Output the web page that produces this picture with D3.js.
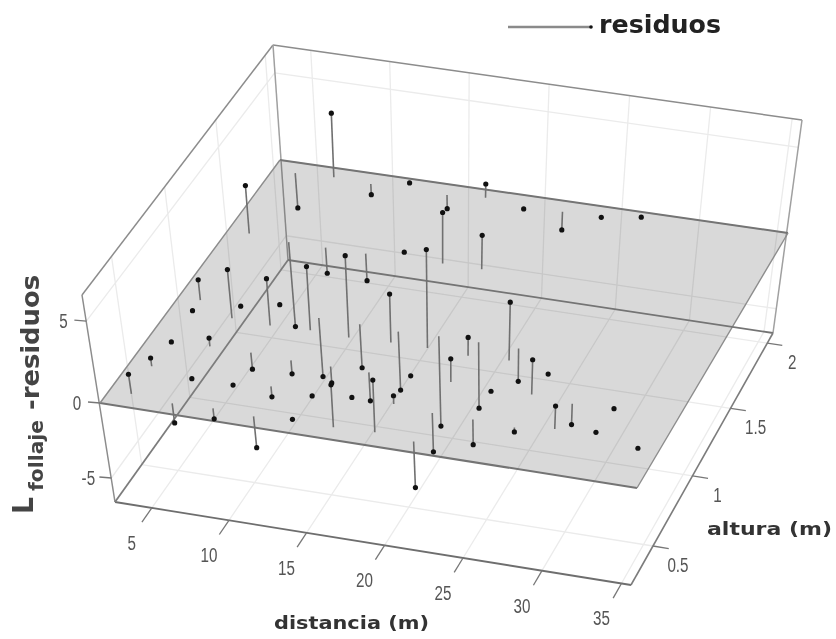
<!DOCTYPE html>
<html>
<head>
<meta charset="utf-8">
<style>
  html, body { margin: 0; background: #fff; }
  svg { display: block; filter: blur(0.7px); }
  .tick { font-family: "Liberation Sans"; font-size: 19.5px; fill: #555; }
  .lab { font-family: "DejaVu Sans"; font-weight: bold; fill: #333; }
</style>
</head>
<body>
<svg width="836" height="639"></svg>
<script src="https://d3js.org/d3.v7.min.js"></script>
<script>
// values, one entry per tree point
const distancia = [6.6,4.1,9.1,11.3,16.5,14.1,16.6,19.1,13.9,19.0,14.1,11.7,9.1,11.6,6.7,9.1,6.6,8.8,16.7,11.6,14.2,16.7,14.2,16.7,19.2,16.6,19.2,19.1,21.6,21.6,19.2,21.7,11.8,14.1,16.6,14.3,11.6,9.1,11.7,9.4,21.7,24.1,21.7,24.2,24.2,24.2,26.6,26.8,29.1,29.2,26.8,31.5,31.7,34.4,19.2,21.6,24.1,26.5,4.0,4.0,4.1,4.0,4.0,6.6,6.5,6.8,6.7,9.2,4.0];
const altura = [2.01,2.00,2.00,2.06,2.02,2.00,1.51,1.51,1.55,0.92,0.91,1.50,1.50,0.92,1.50,0.91,1.01,1.06,0.92,1.01,1.01,1.00,0.70,0.31,0.32,0.70,0.52,0.72,0.72,0.91,1.01,0.50,0.30,0.32,0.52,0.49,0.51,0.71,0.70,0.48,0.30,0.92,1.01,0.50,0.70,1.01,0.72,0.87,0.52,0.70,0.49,0.54,0.71,0.47,1.98,2.00,2.00,2.03,0.32,0.52,0.70,0.93,1.01,0.92,0.71,0.48,0.30,0.31,1.52];
const residuo = [3.7,-2.3,-0.7,-0.1,0.8,-0.9,3.0,2.0,0.0,5.9,4.9,-1.8,-1.7,3.8,-5.6,2.8,0.0,0.0,2.9,-3.9,-2.9,-3.9,-1.1,2.6,3.2,-1.9,0.5,0.0,1.4,1.1,-6.0,-2.6,-2.1,0.0,0.0,0.0,-0.7,-1.1,-0.9,0.0,-3.1,3.5,-4.4,-1.7,0.0,-2.2,2.1,0.0,1.4,-1.4,-0.3,0.0,0.0,0.1,0.0,-1.2,0.0,0.1,1.2,0.5,0.0,0.0,1.2,2.9,0.5,0.0,-1.3,-0.7,2.8];

const distTicks = [5,10,15,20,25,30,35];
const altTicks = [0.5,1,1.5,2];
const zTicks = [-5,0,5];

const distRange = [2.6, 35.6];
const altRange = [0.23, 2.08];
const zRange = [-6.6, 6.6];

const svg = d3.select("svg");

const u = d3.scaleLinear().domain(distRange).range([0, 1]);
const v = d3.scaleLinear().domain(altRange).range([0, 1]);
const w = d3.scaleLinear().domain([zRange[0], 0, zRange[1]]).range([-1, 0, 1]);

// unit square to picture, corners in order front-left, front-right, back-right, back-left
function homography(q) {
  const [[x0,y0],[x1,y1],[x2,y2],[x3,y3]] = q;
  const dx1 = x1-x2, dx2 = x3-x2, sx = x0-x1+x2-x3;
  const dy1 = y1-y2, dy2 = y3-y2, sy = y0-y1+y2-y3;
  const den = dx1*dy2 - dx2*dy1;
  const g = (sx*dy2 - dx2*sy)/den, h = (dx1*sy - sx*dy1)/den;
  const a = x1-x0+g*x1, b = x3-x0+h*x3, d = y1-y0+g*y1, e = y3-y0+h*y3;
  return (s, t) => {
    const n = g*s + h*t + 1;
    return [(a*s + b*t + x0)/n, (d*s + e*t + y0)/n];
  };
}

const floorH = homography([[115,502],[631,585],[773,333],[288,260]]);
const planeH = homography([[100,403],[637,488],[788,233],[280,160]]);
const topH = homography([[82,295],[644,381],[802,120],[273,45]]);

function project(dist, alt, z) {
  const s = u(dist), t = v(alt), k = w(z);
  const a = planeH(s, t), b = k < 0 ? floorH(s, t) : topH(s, t), m = Math.abs(k);
  return [a[0] + (b[0]-a[0])*m, a[1] + (b[1]-a[1])*m];
}

function segment(p, q, stroke, width, g) {
  (g || svg).append("line")
    .attr("x1", p[0]).attr("y1", p[1])
    .attr("x2", q[0]).attr("y2", q[1])
    .attr("stroke", stroke).attr("stroke-width", width);
}

const [d0, d1] = distRange, [a0, a1] = altRange, [z0, z1] = zRange;
const gridColor = "#ebebeb";

// floor and wall grid
distTicks.forEach(d => {
  segment(project(d, a0, z0), project(d, a1, z0), gridColor, 1.3);
  segment(project(d, a1, z0), project(d, a1, z1), gridColor, 1.3);
});
altTicks.forEach(a => {
  segment(project(d0, a, z0), project(d1, a, z0), gridColor, 1.3);
  segment(project(d0, a, z0), project(d0, a, z1), gridColor, 1.3);
});
zTicks.forEach(z => {
  segment(project(d0, a0, z), project(d0, a1, z), gridColor, 1.3);
  segment(project(d0, a1, z), project(d1, a1, z), gridColor, 1.3);
});

// box, the part behind the plane
const boxColor = "#8c8c8c";
segment(project(d0, a0, z1), project(d0, a1, z1), boxColor, 1.5);
segment(project(d0, a1, z1), project(d1, a1, z1), boxColor, 1.5);
segment(project(d1, a1, z1), project(d1, a1, z0), "#a0a0a0", 1.5);
segment(project(d0, a1, z1), project(d0, a1, z0), "#a0a0a0", 1.5);
segment(project(d0, a0, z1), project(d0, a0, z0), boxColor, 1.5);

// plane at residuo = 0
const planeCorners = [[d0,a0],[d1,a0],[d1,a1],[d0,a1]].map(c => project(c[0], c[1], 0));
svg.append("polygon")
  .attr("points", planeCorners.join(" "))
  .attr("fill", "#000")
  .attr("fill-opacity", 0.15);
segment(planeCorners[0], planeCorners[1], "#747474", 2);
segment(planeCorners[3], planeCorners[2], "#747474", 2);
segment(planeCorners[1], planeCorners[2], "#8c8c8c", 1.4);
segment(planeCorners[0], planeCorners[3], "#8c8c8c", 1.4);

// floor edges
segment(project(d0, a0, z0), project(d1, a0, z0), "#6e6e6e", 1.8);
segment(project(d0, a1, z0), project(d1, a1, z0), "#747474", 1.8);
segment(project(d0, a0, z0), project(d0, a1, z0), "#7c7c7c", 1.8);
segment(project(d1, a0, z0), project(d1, a1, z0), "#7c7c7c", 1.6);

// ticks and tick labels
function tickLabel(p, text) {
  svg.append("text")
    .attr("class", "tick")
    .attr("transform", `translate(${p[0]},${p[1]}) scale(0.78,1)`)
    .attr("text-anchor", "middle")
    .attr("dy", "0.36em")
    .text(text);
}

distTicks.forEach(d => {
  const p = project(d, a0, z0);
  segment(p, project(d, a0 - 0.1, z0), "#777", 1.3);
  tickLabel([p[0] - 20, p[1] + 35], d);
});
altTicks.forEach(a => {
  const p = project(d1, a, z0);
  segment(p, project(d1 + 1, a, z0), "#777", 1.3);
  tickLabel([p[0] + 25, p[1] + 19], a);
});
zTicks.forEach(z => {
  const p = project(d0, a0, z);
  segment(p, [p[0] - 12, p[1] - 1], "#777", 1.3);
  tickLabel([p[0] - 23, p[1]], z);
});

// residuals
const points = distancia.map((d, i) => ({ d, a: altura[i], r: residuo[i] }));

svg.append("g").selectAll("line")
  .data(points.filter(p => p.r !== 0))
  .join("line")
  .attr("x1", p => project(p.d, p.a, 0)[0])
  .attr("y1", p => project(p.d, p.a, 0)[1])
  .attr("x2", p => project(p.d, p.a, p.r)[0])
  .attr("y2", p => project(p.d, p.a, p.r)[1])
  .attr("stroke", "#707070")
  .attr("stroke-width", 1.6);

svg.append("g").selectAll("circle")
  .data(points)
  .join("circle")
  .attr("cx", p => project(p.d, p.a, p.r)[0])
  .attr("cy", p => project(p.d, p.a, p.r)[1])
  .attr("r", 2.6)
  .attr("fill", "#111");

// legend
segment([508, 27], [590, 27], "#8a8a8a", 2.5);
svg.append("circle").attr("cx", 591).attr("cy", 27).attr("r", 1.8).attr("fill", "#111");
svg.append("text").attr("class", "lab")
  .attr("x", 599).attr("y", 33)
  .attr("font-size", 24.5)
  .attr("textLength", 122)
  .attr("lengthAdjust", "spacingAndGlyphs")
  .style("fill", "#222")
  .text("residuos");

// axis titles
svg.append("text").attr("class", "lab")
  .attr("x", 274).attr("y", 629)
  .attr("font-size", 18)
  .attr("textLength", 155)
  .attr("lengthAdjust", "spacingAndGlyphs")
  .text("distancia (m)");
svg.append("text").attr("class", "lab")
  .attr("x", 707).attr("y", 535)
  .attr("font-size", 17)
  .attr("textLength", 125)
  .attr("lengthAdjust", "spacingAndGlyphs")
  .text("altura (m)");

const yTitle = [
  { text: "L", x: 33, y: 514, size: 29, len: 17 },
  { text: "follaje", x: 43, y: 491, size: 20, len: 71 },
  { text: "-residuos", x: 39, y: 410, size: 24.5, len: 135 }
];
yTitle.forEach(t => {
  svg.append("text").attr("class", "lab")
    .attr("transform", `translate(${t.x},${t.y}) rotate(-90)`)
    .attr("font-size", t.size)
    .attr("textLength", t.len)
    .attr("lengthAdjust", "spacingAndGlyphs")
    .style("fill", "#444")
    .text(t.text);
});
</script>
</body>
</html>
